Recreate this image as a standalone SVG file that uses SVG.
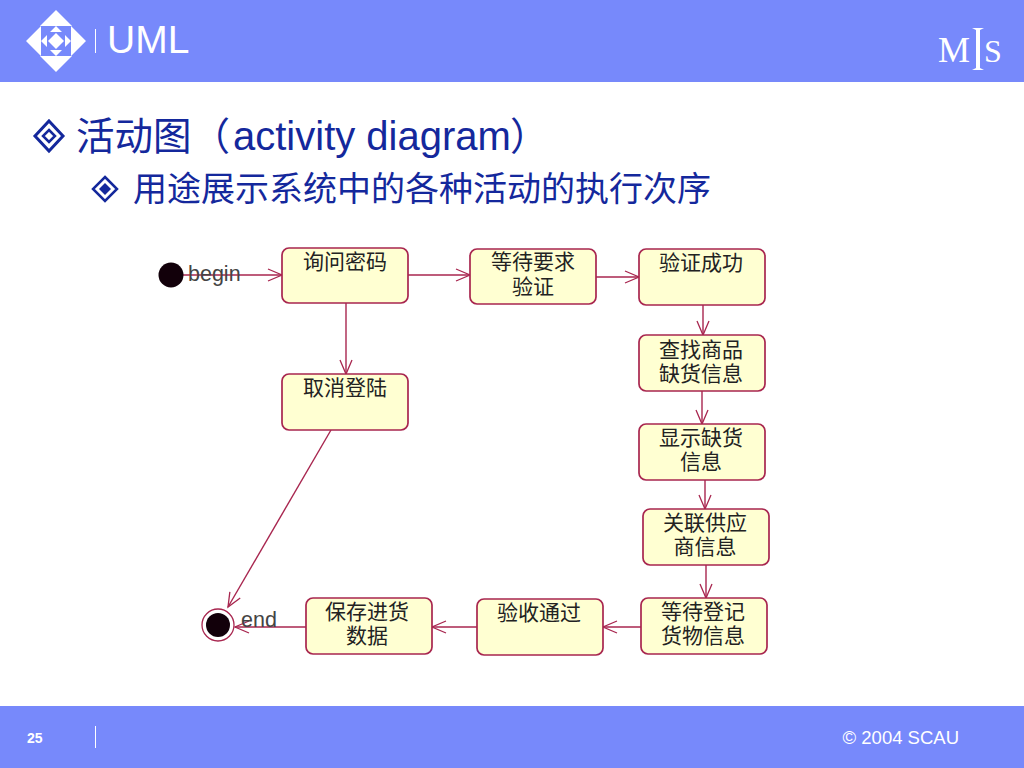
<svg xmlns="http://www.w3.org/2000/svg" width="1024" height="768" viewBox="0 0 1024 768">
<style>
.band{fill:#7789fb}
.w{fill:#fff}
.head{fill:#14289c}
.cjk{font-family:"Noto Sans CJK SC",sans-serif}
.lat{font-family:"Liberation Sans",sans-serif}
.box{fill:#ffffd2;stroke:#a8264f;stroke-width:1.7}
.t{font-family:"Noto Sans CJK SC",sans-serif;font-size:21px;fill:#222;text-anchor:middle}
.c{fill:none;stroke:#a8264f;stroke-width:1.4}
.l{font-family:"Liberation Sans",sans-serif;font-size:21.5px;fill:#444}
.bul{fill:none;stroke:#14289c}
</style>
<defs>
<marker id="a" markerUnits="userSpaceOnUse" markerWidth="18" markerHeight="16" refX="15" refY="8" orient="auto"><path d="M1 2L15 8L1 14" fill="none" stroke="#a8264f" stroke-width="1.3"/></marker>
</defs>
<rect width="1024" height="768" fill="#fff"/>
<g id="header">
<rect class="band" width="1024" height="82"/>
<path class="w" d="M56 10L72 26H40ZM56 72L40 56H72ZM26 41L41 26V56ZM86 41L71 26V56Z"/>
<path class="w" d="M56 26L62 32H50ZM56 56L50 50H62ZM41 41L47 35V47ZM71 41L65 35V47ZM56 33L64 41L56 49L48 41Z"/>
<rect class="w" x="95" y="29" width="1" height="24"/>
<text class="lat" x="107" y="53" font-size="39" fill="#fff">UML</text>
<text x="938" y="62" font-family="Liberation Serif,serif" font-size="36" fill="#fff">M</text>
<path class="w" d="M972 28H984L980 30V68L984 70H972L976 68V30Z"/>
<text x="984" y="62" font-family="Liberation Serif,serif" font-size="32" fill="#fff">S</text>
</g>
<g id="title">
<path class="bul" stroke-width="3" d="M49 121L63 136L49 151L35 136Z"/>
<path class="bul" stroke-width="2.5" d="M49 130L55 136L49 142L43 136Z"/>
<text class="head cjk" x="76" y="150" font-size="38.5">活动图（</text>
<text class="head lat" x="233" y="150" font-size="40">activity diagram</text>
<text class="head cjk" x="510" y="150" font-size="38.5">）</text>
<path class="bul" stroke-width="2.5" d="M105 177L117 189L105 201L93 189Z"/>
<path fill="#14289c" d="M105 183L111 189L105 195L99 189Z"/>
<text class="head cjk" x="133" y="201" font-size="34">用途展示系统中的各种活动的执行次序</text>
</g>
<g id="connectors">
<path class="c" d="M172 275H282" marker-end="url(#a)"/>
<path class="c" d="M408 275H470" marker-end="url(#a)"/>
<path class="c" d="M596 277H639" marker-end="url(#a)"/>
<path class="c" d="M703 305V335" marker-end="url(#a)"/>
<path class="c" d="M702 391V424" marker-end="url(#a)"/>
<path class="c" d="M705 480V509" marker-end="url(#a)"/>
<path class="c" d="M706 565V598" marker-end="url(#a)"/>
<path class="c" d="M641 627H603" marker-end="url(#a)"/>
<path class="c" d="M477 627H432" marker-end="url(#a)"/>
<path class="c" d="M306 627H235" marker-end="url(#a)"/>
<path class="c" d="M346 303V374" marker-end="url(#a)"/>
<path class="c" d="M331 430L228 607" marker-end="url(#a)"/>
</g>
<g id="start"><circle cx="171" cy="275" r="12.5" fill="#12000a"/><text class="l" x="188" y="281">begin</text></g>
<g id="end"><circle cx="218" cy="625" r="16" fill="#fff" stroke="#a8264f" stroke-width="1.3"/><circle cx="218" cy="625" r="12" fill="#12000a"/><text class="l" x="241" y="627">end</text></g>
<g id="n1"><rect class="box" x="282" y="248" width="126" height="55" rx="7"/><text class="t" x="345" y="269">询问密码</text></g>
<g id="n2"><rect class="box" x="470" y="249" width="126" height="55" rx="7"/><text class="t"><tspan x="533" y="269">等待要求</tspan><tspan x="533" y="294">验证</tspan></text></g>
<g id="n3"><rect class="box" x="639" y="249" width="126" height="56" rx="7"/><text class="t" x="701" y="270">验证成功</text></g>
<g id="n4"><rect class="box" x="639" y="335" width="126" height="56" rx="7"/><text class="t"><tspan x="701" y="357">查找商品</tspan><tspan x="701" y="381">缺货信息</tspan></text></g>
<g id="n5"><rect class="box" x="639" y="424" width="126" height="56" rx="7"/><text class="t"><tspan x="701" y="445">显示缺货</tspan><tspan x="701" y="469">信息</tspan></text></g>
<g id="n6"><rect class="box" x="643" y="509" width="126" height="56" rx="7"/><text class="t"><tspan x="705" y="530">关联供应</tspan><tspan x="705" y="554">商信息</tspan></text></g>
<g id="n7"><rect class="box" x="641" y="598" width="126" height="56" rx="7"/><text class="t"><tspan x="703" y="619">等待登记</tspan><tspan x="703" y="643">货物信息</tspan></text></g>
<g id="n8"><rect class="box" x="477" y="599" width="126" height="56" rx="7"/><text class="t" x="539" y="620">验收通过</text></g>
<g id="n9"><rect class="box" x="306" y="598" width="126" height="56" rx="7"/><text class="t"><tspan x="367" y="619">保存进货</tspan><tspan x="367" y="643">数据</tspan></text></g>
<g id="n10"><rect class="box" x="282" y="374" width="126" height="56" rx="7"/><text class="t" x="345" y="395">取消登陆</text></g>
<g id="footer">
<rect class="band" y="706" width="1024" height="62"/>
<text class="lat" x="27" y="743" font-size="14" font-weight="bold" fill="#fff">25</text>
<rect class="w" x="95" y="726" width="1" height="22"/>
<text class="lat" x="959" y="744" text-anchor="end" font-size="18.5" fill="#fff">© 2004 SCAU</text>
</g>
</svg>
